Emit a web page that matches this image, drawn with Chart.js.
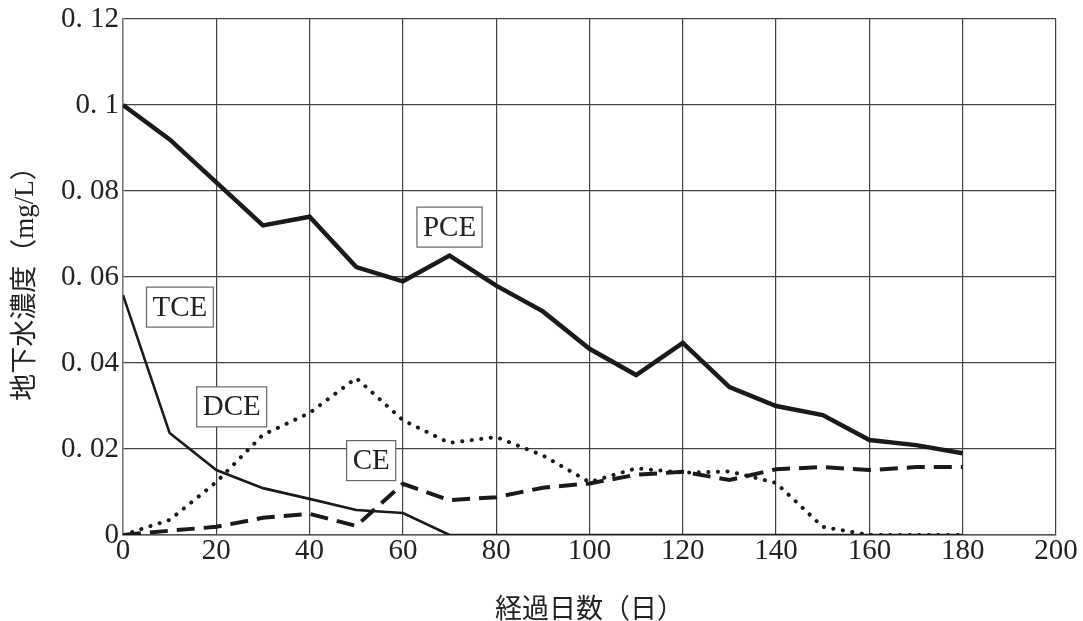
<!DOCTYPE html>
<html>
<head>
<meta charset="utf-8">
<script src="https://cdn.jsdelivr.net/npm/chart.js@4"></script>
<style>
  html, body { margin: 0; padding: 0; background: #fff; }
  #wrap { width: 1083px; height: 621px; position: relative; }
</style>
</head>
<body>
<div id="wrap"><canvas id="chart"></canvas></div>
<script>
const days = [0, 10, 20, 30, 40, 50, 60, 70, 80, 90, 100, 110, 120, 130, 140, 150, 160, 170, 180];
const pce = [0.1, 0.092, 0.082, 0.072, 0.074, 0.0623, 0.059, 0.065, 0.058, 0.052, 0.0433, 0.0372, 0.0447, 0.0344, 0.030, 0.0279, 0.0221, 0.0209, 0.019];
const tce = [0.0558, 0.0237, 0.0151, 0.0109, 0.0084, 0.0058, 0.0051, 0, 0, 0, 0, 0, 0, 0, 0, 0, 0, 0, 0];
const dce = [0, 0.0035, 0.0123, 0.0233, 0.0284, 0.0365, 0.0267, 0.0214, 0.0228, 0.0185, 0.0123, 0.0155, 0.0145, 0.0148, 0.0121, 0.0019, 0, 0, 0];
const ce = [0, 0.001, 0.0019, 0.004, 0.0049, 0.0021, 0.0119, 0.0081, 0.0088, 0.011, 0.012, 0.014, 0.0147, 0.0128, 0.0153, 0.0158, 0.0151, 0.0158, 0.0158];
const yTickLabels = { 0: '0', 0.02: '0. 02', 0.04: '0. 04', 0.06: '0. 06', 0.08: '0. 08', 0.1: '0. 1', 0.12: '0. 12' };

// boxed series labels, placed in data units
const tags = [
  { text: 'PCE', x: 70, y: 0.0716 },
  { text: 'TCE', x: 12.2, y: 0.053 },
  { text: 'DCE', x: 23.3, y: 0.0298 },
  { text: 'CE', x: 53.2, y: 0.0173 }
];

const serif = '"Liberation Serif", "DejaVu Serif", "Noto Sans CJK JP", serif';

function toPoints(arr) {
  return days.map((d, i) => ({ x: d, y: arr[i] }));
}

const tagPlugin = {
  id: 'tags',
  afterDatasetsDraw(chart) {
    const ctx = chart.ctx;
    const xs = chart.scales.x, ys = chart.scales.y;
    ctx.save();
    ctx.font = '29px ' + serif;
    ctx.textAlign = 'center';
    ctx.textBaseline = 'middle';
    tags.forEach(t => {
      const cx = xs.getPixelForValue(t.x);
      const cy = ys.getPixelForValue(t.y);
      const w = ctx.measureText(t.text).width + 12;
      const h = 40;
      ctx.fillStyle = '#fff';
      ctx.fillRect(cx - w / 2, cy - h / 2, w, h);
      ctx.strokeStyle = '#666';
      ctx.lineWidth = 1.2;
      ctx.strokeRect(cx - w / 2, cy - h / 2, w, h);
      ctx.fillStyle = '#222';
      ctx.fillText(t.text, cx, cy + 1);
    });
    ctx.restore();
  }
};

new Chart(document.getElementById('chart'), {
  type: 'line',
  data: {
    datasets: [
      { label: 'PCE', data: toPoints(pce), borderColor: '#1a1a1a', borderWidth: 4.5, pointRadius: 0, tension: 0 },
      { label: 'TCE', data: toPoints(tce), borderColor: '#1a1a1a', borderWidth: 2.6, pointRadius: 0, tension: 0 },
      { label: 'DCE', data: toPoints(dce), borderColor: '#1a1a1a', borderWidth: 4, borderDash: [0.1, 9.5], borderCapStyle: 'round', pointRadius: 0, tension: 0 },
      { label: 'CE', data: toPoints(ce), borderColor: '#1a1a1a', borderWidth: 4, borderDash: [18, 9], pointRadius: 0, tension: 0 }
    ]
  },
  options: {
    responsive: true,
    maintainAspectRatio: false,
    animation: false,
    layout: { padding: { top: 19, right: 27, left: 0, bottom: 0 } },
    plugins: { legend: { display: false }, tooltip: { enabled: false } },
    scales: {
      x: {
        type: 'linear',
        min: 0, max: 200,
        ticks: { stepSize: 20, color: '#222', font: { family: serif, size: 29, lineHeight: 1 }, padding: 2, maxRotation: 0 },
        grid: { color: '#444', lineWidth: 1.2, drawTicks: false },
        border: { color: '#555', width: 1.4 },
        title: { display: true, text: '経過日数（日）', color: '#222', font: { family: serif, size: 27 }, padding: { top: 0, bottom: -6 } },
        afterFit(scale) { scale.height = 86; }
      },
      y: {
        min: 0, max: 0.12,
        ticks: {
          stepSize: 0.02, color: '#222', font: { family: serif, size: 29, lineHeight: 1 }, padding: 4,
          callback: v => yTickLabels[Math.round(v * 100) / 100]
        },
        grid: { color: '#444', lineWidth: 1.2, drawTicks: false },
        border: { color: '#777', width: 1.4 },
        title: { display: true, text: '地下水濃度（mg/L）', color: '#222', font: { family: serif, size: 27 }, padding: { top: 10, bottom: 0 } },
        afterFit(scale) { scale.width = 123; }
      }
    }
  },
  plugins: [tagPlugin]
});
</script>
</body>
</html>
